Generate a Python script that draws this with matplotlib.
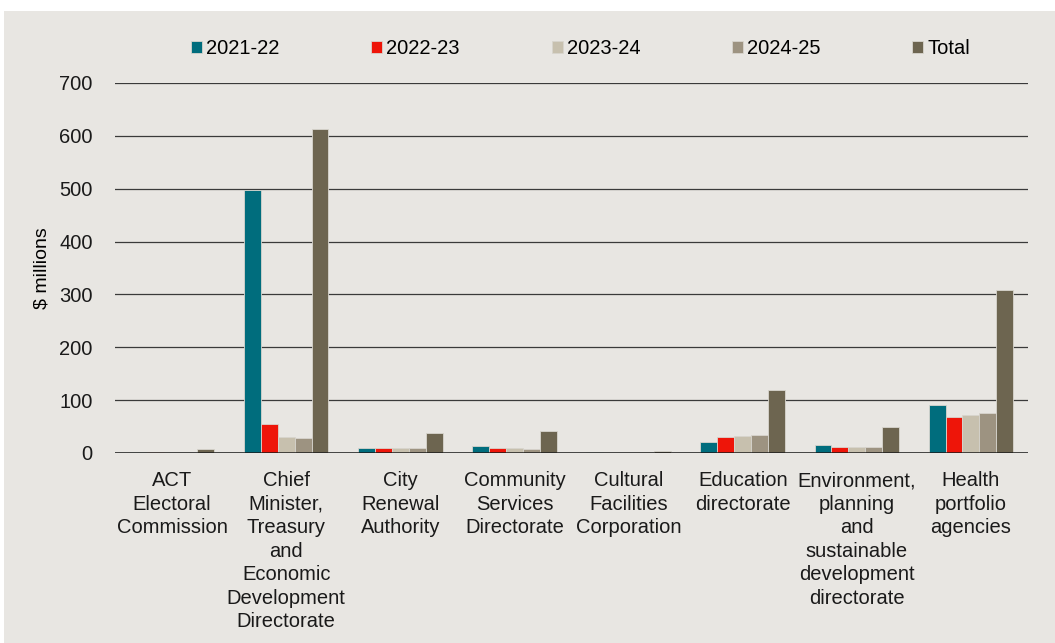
import numpy as np
import matplotlib.pyplot as plt
from matplotlib.patches import Rectangle

plt.rcParams['font.family'] = ['Liberation Sans', 'DejaVu Sans']

# Datos
categorias = ['ACT\nElectoral\nCommission',
              'Chief\nMinister,\nTreasury\nand\nEconomic\nDevelopment\nDirectorate',
              'City\nRenewal\nAuthority',
              'Community\nServices\nDirectorate',
              'Cultural\nFacilities\nCorporation',
              'Education\ndirectorate',
              'Environment,\nplanning\nand\nsustainable\ndevelopment\ndirectorate',
              'Health\nportfolio\nagencies']
series = ['2021-22', '2022-23', '2023-24', '2024-25', 'Total']
v_2021 = [1.5, 497, 9, 13, 2.5, 21, 15, 90]
v_2022 = [1, 55, 9, 10, 0.3, 30, 12, 69]
v_2023 = [0.5, 30, 9, 9, 0.3, 32, 11, 72]
v_2024 = [0.5, 28, 9, 8, 1, 34, 11, 75]
v_total = [8, 613, 37, 42, 4, 119, 50, 309]
colores = ['#006D7D', '#EE1509', '#C7C0AE', '#9D9381', '#6D6550']

valores = [v_2021, v_2022, v_2023, v_2024, v_total]

fig = plt.figure(figsize=(10.55, 6.43), dpi=100, facecolor='white')
fondo = '#E8E6E2'
fig.patches.append(Rectangle((4 / 1055, 0), 1, 1 - 11 / 643, transform=fig.transFigure,
                             facecolor=fondo, edgecolor='none', zorder=-10))
ax = fig.add_axes([115 / 1055, 1 - 453 / 643, 913 / 1055, 370 / 643])
ax.set_facecolor(fondo)

x = np.arange(len(categorias))
ancho = 0.148
for i, (nombre, vals, col) in enumerate(zip(series, valores, colores)):
    ax.bar(x + (i - 2) * ancho, vals, ancho, color=col, label=nombre,
           edgecolor='#D8D5CE', linewidth=0.6, zorder=3)

ax.set_xlim(-0.5, len(categorias) - 0.5)
ax.set_ylim(0, 700)
ax.set_yticks(range(0, 701, 100))
ax.yaxis.grid(True, color='#3a3a3a', linewidth=0.9, zorder=1)
ax.axhline(0, color='#1a1a1a', linewidth=1.8, zorder=4)
for s in ax.spines.values():
    s.set_visible(False)
ax.tick_params(axis='both', length=0, labelsize=14.5, colors='#1a1a1a')
ax.tick_params(axis='y', pad=16)
ax.set_xticks(x)
ax.set_xticklabels(categorias, fontsize=14.5, linespacing=1.3)
ax.tick_params(axis='x', pad=13)
ax.set_ylabel('$ millions', fontsize=14, labelpad=6)

ax.legend(loc='lower center', bbox_to_anchor=(0.51, 1.045), ncol=5, frameon=False,
          fontsize=14.5, handlelength=0.55, handleheight=0.55, handletextpad=0.2,
          columnspacing=4.55, borderaxespad=0)

fig.savefig('out.png', dpi=100, facecolor=fig.get_facecolor())
